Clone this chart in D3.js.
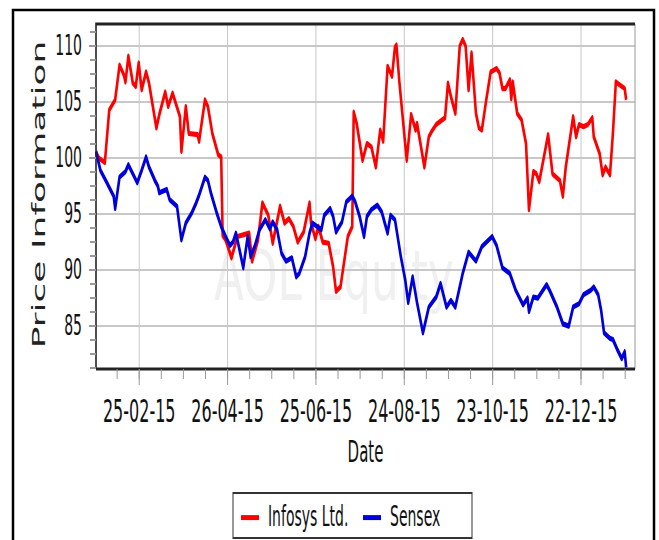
<!DOCTYPE html>
<html>
<head>
<meta charset="utf-8">
<script src="https://cdn.jsdelivr.net/npm/d3@7"></script>
<style>
  body { margin: 0; background: #fff; }
  text { font-family: "DejaVu Sans", Verdana, sans-serif; }
</style>
</head>
<body>
<div id="chart"></div>
<script>
// Infosys Ltd. against the Sensex, both rebased to 100
var infosys = [
  ["2015-01-27",100.4],["2015-01-29",99.9],["2015-02-02",99.5],["2015-02-05",104.2],["2015-02-09",105.1],
  ["2015-02-12",108.2],["2015-02-15",107.3],["2015-02-16",106.7],["2015-02-18",109.0],["2015-02-21",106.6],
  ["2015-02-23",106.3],["2015-02-25",108.4],["2015-02-27",106.0],["2015-03-02",107.6],["2015-03-04",106.6],
  ["2015-03-09",102.6],["2015-03-11",103.8],["2015-03-15",105.8],["2015-03-17",104.5],["2015-03-20",105.7],
  ["2015-03-25",103.6],["2015-03-26",100.5],["2015-03-29",104.5],["2015-03-31",102.1],["2015-04-06",102.0],
  ["2015-04-07",101.4],["2015-04-11",105.1],["2015-04-13",104.5],["2015-04-16",102.1],["2015-04-20",100.2],
  ["2015-04-22",100.0],["2015-04-23",93.0],["2015-04-25",92.6],["2015-04-29",91.0],["2015-05-03",92.9],
  ["2015-05-11",93.2],["2015-05-13",90.7],["2015-05-17",92.6],["2015-05-20",95.9],["2015-05-24",94.8],
  ["2015-05-27",92.3],["2015-06-01",95.6],["2015-06-04",94.1],["2015-06-07",94.5],["2015-06-10",93.8],
  ["2015-06-13",92.4],["2015-06-17",93.3],["2015-06-21",95.9],["2015-06-22",94.1],["2015-06-25",92.7],
  ["2015-06-27",93.8],["2015-06-30",92.4],["2015-07-04",92.3],["2015-07-07",90.2],["2015-07-09",88.0],
  ["2015-07-12",88.4],["2015-07-14",90.2],["2015-07-17",92.9],["2015-07-20",93.8],["2015-07-21",104.0],
  ["2015-07-23",103.0],["2015-07-27",99.7],["2015-07-30",101.2],["2015-08-02",100.9],["2015-08-05",99.1],
  ["2015-08-08",102.4],["2015-08-10",101.4],["2015-08-13",108.1],["2015-08-16",107.2],["2015-08-18",109.8],
  ["2015-08-19",110.0],["2015-08-21",106.7],["2015-08-26",99.7],["2015-08-29",103.8],["2015-09-01",102.4],
  ["2015-09-02",103.0],["2015-09-07",99.1],["2015-09-10",101.8],["2015-09-12",102.3],["2015-09-15",102.9],
  ["2015-09-21",103.5],["2015-09-23",106.6],["2015-09-25",105.4],["2015-09-28",103.9],["2015-10-01",109.9],
  ["2015-10-03",110.5],["2015-10-05",109.9],["2015-10-07",106.0],["2015-10-09",109.3],["2015-10-12",103.9],
  ["2015-10-14",102.6],["2015-10-16",102.4],["2015-10-19",105.1],["2015-10-22",107.6],["2015-10-26",107.9],
  ["2015-10-28",107.5],["2015-10-30",106.1],["2015-11-01",106.1],["2015-11-04",106.9],["2015-11-05",105.2],
  ["2015-11-06",106.7],["2015-11-09",103.9],["2015-11-12",103.3],["2015-11-15",101.2],["2015-11-17",95.3],
  ["2015-11-20",98.7],["2015-11-22",98.5],["2015-11-24",97.8],["2015-11-30",102.0],["2015-12-03",98.5],
  ["2015-12-08",97.9],["2015-12-10",96.5],["2015-12-12",99.1],["2015-12-17",103.6],["2015-12-19",101.8],
  ["2015-12-21",102.9],["2015-12-24",102.7],["2015-12-27",102.9],["2015-12-30",103.5],["2015-12-31",101.8],
  ["2016-01-04",100.3],["2016-01-06",98.4],["2016-01-08",99.1],["2016-01-11",98.4],["2016-01-13",102.1],
  ["2016-01-15",106.7],["2016-01-16",106.6],["2016-01-19",106.3],["2016-01-21",106.1],["2016-01-22",105.1]
];

var sensex = [
  ["2015-01-27",100.5],["2015-01-30",98.8],["2015-02-03",97.8],["2015-02-08",96.5],["2015-02-09",95.4],
  ["2015-02-12",98.2],["2015-02-16",98.7],["2015-02-18",99.3],["2015-02-21",98.5],["2015-02-24",97.7],
  ["2015-02-27",98.8],["2015-03-02",100.0],["2015-03-04",99.1],["2015-03-08",97.9],["2015-03-10",97.4],
  ["2015-03-11",96.8],["2015-03-16",97.1],["2015-03-18",96.2],["2015-03-23",95.6],["2015-03-26",92.6],
  ["2015-03-29",94.1],["2015-04-02",95.0],["2015-04-05",95.9],["2015-04-07",96.6],["2015-04-11",98.2],
  ["2015-04-13",97.9],["2015-04-15",96.8],["2015-04-19",95.0],["2015-04-22",93.8],["2015-04-25",92.9],
  ["2015-04-28",92.1],["2015-04-30",92.4],["2015-05-02",93.2],["2015-05-04",92.0],["2015-05-07",90.1],
  ["2015-05-10",92.9],["2015-05-12",91.1],["2015-05-15",92.1],["2015-05-18",93.5],["2015-05-22",94.4],
  ["2015-05-25",93.6],["2015-05-27",94.2],["2015-05-30",93.5],["2015-06-02",91.4],["2015-06-05",90.7],
  ["2015-06-09",91.0],["2015-06-12",89.3],["2015-06-14",89.6],["2015-06-18",91.1],["2015-06-21",93.2],
  ["2015-06-23",94.1],["2015-06-26",93.8],["2015-06-29",93.5],["2015-07-01",94.8],["2015-07-05",95.4],
  ["2015-07-07",94.7],["2015-07-09",93.3],["2015-07-13",94.2],["2015-07-16",96.0],["2015-07-20",96.5],
  ["2015-07-22",96.0],["2015-07-25",94.7],["2015-07-28",92.9],["2015-07-30",94.7],["2015-08-02",95.3],
  ["2015-08-06",95.7],["2015-08-09",95.1],["2015-08-13",93.2],["2015-08-15",94.8],["2015-08-18",94.4],
  ["2015-08-22",91.1],["2015-08-25",89.0],["2015-08-27",87.0],["2015-08-30",89.3],["2015-09-02",87.0],
  ["2015-09-06",84.3],["2015-09-10",86.6],["2015-09-15",87.5],["2015-09-18",88.7],["2015-09-22",86.6],
  ["2015-09-25",87.2],["2015-09-28",86.6],["2015-10-03",89.6],["2015-10-07",91.5],["2015-10-12",90.7],
  ["2015-10-16",92.0],["2015-10-23",92.9],["2015-10-26",92.1],["2015-10-30",90.1],["2015-11-04",89.6],
  ["2015-11-08",88.1],["2015-11-13",86.8],["2015-11-16",87.4],["2015-11-17",86.2],["2015-11-20",87.5],
  ["2015-11-23",87.4],["2015-11-29",88.6],["2015-12-01",88.1],["2015-12-06",86.6],["2015-12-10",85.1],
  ["2015-12-14",84.9],["2015-12-17",86.6],["2015-12-21",86.9],["2015-12-24",87.7],["2015-12-29",88.1],
  ["2015-12-31",88.4],["2016-01-03",87.7],["2016-01-05",86.3],["2016-01-07",84.3],["2016-01-11",83.8],
  ["2016-01-13",83.7],["2016-01-16",82.8],["2016-01-19",82.0],["2016-01-21",82.6],["2016-01-22",81.2]
];

var seriesNames = ["Infosys Ltd.", "Sensex"];
var dateDomain = ["2015-01-27", "2016-01-28"];
var valueDomain = [81.07, 111.875];
var yTicks = [85, 90, 95, 100, 105, 110];
var xTickDates = ["2015-02-25", "2015-04-26", "2015-06-25", "2015-08-24", "2015-10-23", "2015-12-22"];
var xTickLabels = ["25-02-15", "26-04-15", "25-06-15", "24-08-15", "23-10-15", "22-12-15"];

function chart() {
  var colors = ["#ff0000", "#0000dd"],
      parse = d3.timeParse("%Y-%m-%d");

  // the picture is stretched 2x vertically, so draw in half height and scale
  var plotLeft = 96, plotRight = 635, plotTop = 12, plotBottom = 184.5;

  var svg = d3.select("#chart").append("svg")
      .attr("width", 659)
      .attr("height", 540);

  svg.append("rect")
      .attr("x", 13).attr("y", 10)
      .attr("width", 641).attr("height", 600)
      .attr("fill", "none")
      .attr("stroke", "#000")
      .attr("stroke-width", 2.5);

  svg.append("text")
      .attr("transform", "translate(214,300) scale(0.95,1.5)")
      .attr("font-size", 46)
      .attr("fill", "#f0f0f0")
      .text("AOL Equity");

  var g = svg.append("g").attr("transform", "scale(1,2)");

  var x = d3.scaleTime()
      .domain(dateDomain.map(parse))
      .range([plotLeft, plotRight]);

  var y = d3.scaleLinear()
      .domain(valueDomain)
      .range([plotBottom, plotTop]);

  var majorDates = xTickDates.map(parse);
  var minorDates = d3.timeDay.range(parse("2015-01-26"), x.domain()[1], 15)
      .filter(function(d) { return d >= x.domain()[0]; });
  var minorValues = d3.range(81.25, 111.9, 1.25);

  function greyLines(s, colour) {
    s.select(".domain").remove();
    s.selectAll("line").attr("stroke", colour).attr("stroke-width", 1);
  }

  // grid
  g.append("g")
      .attr("transform", "translate(0," + plotBottom + ")")
      .call(d3.axisBottom(x).tickValues(majorDates).tickSize(-(plotBottom - plotTop)).tickFormat(""))
      .call(greyLines, "#c8c8c8");

  g.append("g")
      .attr("transform", "translate(" + plotLeft + ",0)")
      .call(d3.axisLeft(y).tickValues(yTicks).tickSize(-(plotRight - plotLeft)).tickFormat(""))
      .call(greyLines, "#c8c8c8");

  // lines
  var line = d3.line()
      .x(function(d) { return x(parse(d[0])); })
      .y(function(d) { return y(d[1]); });

  [infosys, sensex].forEach(function(series, i) {
    g.append("path")
        .datum(series)
        .attr("fill", "none")
        .attr("stroke", colors[i])
        .attr("stroke-width", 2.6)
        .attr("stroke-linejoin", "round")
        .attr("d", line);
  });

  // frame
  g.append("line")
      .attr("x1", plotRight).attr("x2", plotRight)
      .attr("y1", plotTop).attr("y2", plotBottom)
      .attr("stroke", "#999").attr("stroke-width", 1);
  g.append("path")
      .attr("d", "M" + plotLeft + "," + plotBottom + "V" + plotTop + "H" + plotRight)
      .attr("fill", "none").attr("stroke", "#222").attr("stroke-width", 1.6);
  g.append("line")
      .attr("x1", plotLeft).attr("x2", plotRight)
      .attr("y1", plotBottom).attr("y2", plotBottom)
      .attr("stroke", "#222").attr("stroke-width", 1.6);

  // x axis ticks and labels
  g.append("g")
      .attr("transform", "translate(0," + plotBottom + ")")
      .call(d3.axisBottom(x).tickValues(minorDates).tickSize(5).tickFormat(""))
      .call(greyLines, "#999");

  g.append("g")
      .attr("transform", "translate(0," + plotBottom + ")")
      .call(d3.axisBottom(x).tickValues(majorDates).tickSize(8).tickPadding(7)
        .tickFormat(function(d, i) { return xTickLabels[i]; }))
      .call(greyLines, "#999")
      .call(function(s) {
        s.selectAll("text").attr("font-size", 16).attr("fill", "#111")
            .style("font-family", "'DejaVu Sans', Verdana, sans-serif");
      });

  // y axis ticks and labels
  g.append("g")
      .attr("transform", "translate(" + plotLeft + ",0)")
      .call(d3.axisLeft(y).tickValues(minorValues).tickSize(6).tickFormat(""))
      .call(greyLines, "#999");

  g.append("g")
      .attr("transform", "translate(" + plotLeft + ",0)")
      .call(d3.axisLeft(y).tickValues(yTicks).tickSize(7).tickPadding(7))
      .call(greyLines, "#999")
      .call(function(s) {
        s.selectAll("text").attr("font-size", 14).attr("fill", "#111")
            .style("font-family", "'DejaVu Sans', Verdana, sans-serif");
      });

  // axis titles
  g.append("text")
      .attr("x", (plotLeft + plotRight) / 2)
      .attr("y", 231)
      .attr("text-anchor", "middle")
      .attr("font-size", 15)
      .attr("fill", "#111")
      .text("Date");

  g.append("text")
      .attr("transform", "translate(45," + ((plotTop + plotBottom) / 2 - 1) + ") rotate(-90)")
      .attr("text-anchor", "middle")
      .attr("font-size", 18)
      .attr("fill", "#222")
      .text("Price Information");

  // legend
  var legend = g.append("g");
  legend.append("rect")
      .attr("x", 233).attr("y", 246.5)
      .attr("width", 239).attr("height", 22.5)
      .attr("fill", "#fff")
      .attr("stroke", "#333")
      .attr("stroke-width", 1);

  var legendX = [241, 363];
  seriesNames.forEach(function(name, i) {
    legend.append("line")
        .attr("x1", legendX[i]).attr("x2", legendX[i] + 18)
        .attr("y1", 258.8).attr("y2", 258.8)
        .attr("stroke", colors[i])
        .attr("stroke-width", 2.5);
    legend.append("text")
        .attr("x", legendX[i] + 27)
        .attr("y", 262.8)
        .attr("font-size", 14)
        .attr("fill", "#111")
        .text(name);
  });
}

chart();
</script>
</body>
</html>
